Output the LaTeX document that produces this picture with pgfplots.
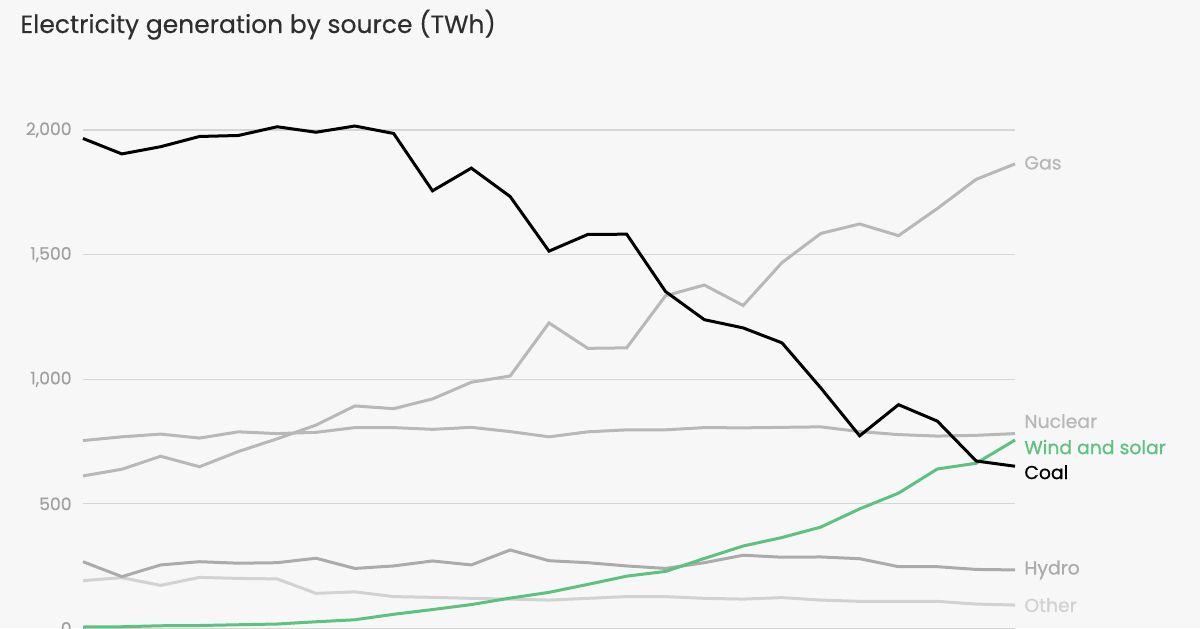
\documentclass[border=0pt]{standalone}
\usepackage{pgfplots}
\pgfplotsset{compat=1.18}
\usepackage{fontspec}
\setmainfont{Poppins}
\newfontfamily\labelfont{Poppins}[RawFeature={embolden=0.7}]
\newfontfamily\tickfont{Poppins}[RawFeature={embolden=0.3}]

\definecolor{bg}{HTML}{F7F7F7}
\definecolor{gridc}{HTML}{D6D6D6}
\definecolor{tickc}{HTML}{A0A0A0}
\definecolor{gasc}{HTML}{B8B8B8}
\definecolor{nucc}{HTML}{B8B8B8}
\definecolor{hydroc}{HTML}{ABABAB}
\definecolor{otherc}{HTML}{D2D2D2}
\definecolor{greenc}{HTML}{5CC27E}

% US electricity generation, TWh, 2000--2024
\pgfplotstableread{
year coal gas nuclear wind hydro other
2000 1966 612 754 6 268 192
2001 1904 639 769 7 208 204
2002 1933 691 780 11 255 173
2003 1974 649 764 12 268 205
2004 1978 710 789 15 262 201
2005 2013 761 782 18 264 199
2006 1991 816 787 27 282 141
2007 2016 893 806 35 241 147
2008 1986 882 806 57 251 128
2009 1756 921 799 76 271 125
2010 1847 988 807 96 255 121
2011 1733 1013 790 122 315 118
2012 1514 1226 769 145 272 114
2013 1581 1124 789 177 264 121
2014 1582 1126 797 210 251 128
2015 1352 1335 797 229 241 128
2016 1239 1378 806 281 264 121
2017 1206 1296 805 331 294 118
2018 1146 1468 807 365 286 124
2019 965 1585 809 407 287 114
2020 773 1623 790 480 280 109
2021 898 1576 778 543 248 109
2022 832 1685 772 640 248 109
2023 672 1802 775 663 237 98
2024 651 1864 782 756 235 94
}\gen

\begin{document}
\begin{tikzpicture}
\useasboundingbox (0,0) rectangle (600pt,314pt);
\fill[bg] (0,0) rectangle (600pt,314pt);
\node[anchor=base west, inner sep=0pt, font=\tickfont\fontsize{12.5}{14}\selectfont, text=black!82] at (10pt,297.5pt) {Electricity generation by source (TWh)};
\begin{axis}[
  at={(41.5pt,-0.25pt)}, anchor=south west,
  scale only axis, width=466pt, height=249.25pt,
  xmin=2000, xmax=2024, ymin=0, ymax=2000,
  clip=false,
  axis line style={draw=none},
  xtick=\empty,
  ytick={0,500,1000,1500,2000},
  major tick length=0pt,
  ymajorgrids, grid style={gridc, line width=0.6pt},
  yticklabel style={text=tickc, font=\tickfont\fontsize{8.6}{10}\selectfont, anchor=east, inner sep=0pt, xshift=-5.5pt},
  /pgf/number format/.cd, 1000 sep={,}, assume math mode=true,
]
\addplot[otherc, line width=1.5pt] table[x=year, y=other] {\gen};
\addplot[hydroc, line width=1.5pt] table[x=year, y=hydro] {\gen};
\addplot[nucc, line width=1.5pt] table[x=year, y=nuclear] {\gen};
\addplot[gasc, line width=1.5pt] table[x=year, y=gas] {\gen};
\addplot[greenc, line width=1.5pt] table[x=year, y=wind] {\gen};
\addplot[black, line width=1.5pt] table[x=year, y=coal] {\gen};

\begin{scope}[every node/.style={anchor=west, inner sep=0pt, xshift=4.5pt, font=\labelfont\fontsize{9.4}{11}\selectfont}]
\node[text=gasc] at (axis cs:2024,1868) {Gas};
\node[text=nucc] at (axis cs:2024,832) {Nuclear};
\node[text=greenc] at (axis cs:2024,728) {Wind and solar};
\node[text=black] at (axis cs:2024,627) {Coal};
\node[text=hydroc] at (axis cs:2024,235) {Hydro};
\node[text=otherc] at (axis cs:2024,94) {Other};
\end{scope}
\end{axis}
\end{tikzpicture}
\end{document}
